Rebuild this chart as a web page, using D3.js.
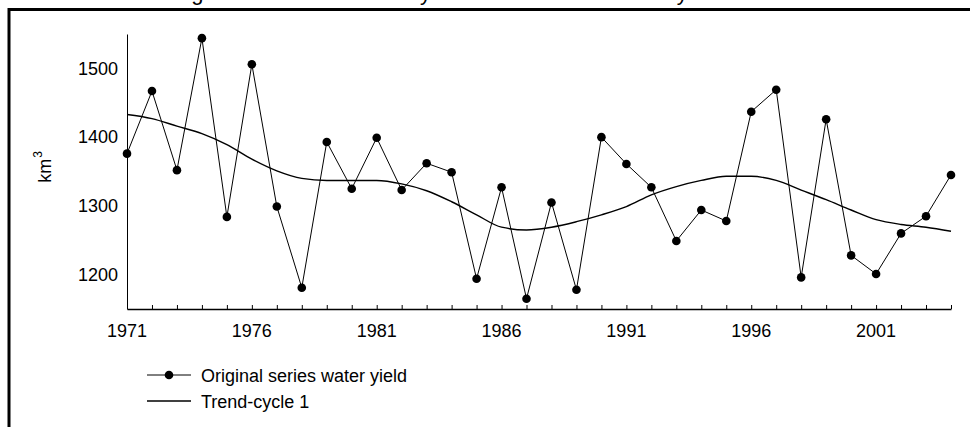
<!DOCTYPE html>
<html>
<head>
<meta charset="utf-8">
<script src="https://cdnjs.cloudflare.com/ajax/libs/d3/7.8.5/d3.min.js"></script>
<style>
    body { margin: 0; background: #fff; }
    svg { display: block; font-family: Arial, "Liberation Sans", sans-serif; }
    text { fill: #000; }
</style>
</head>
<body>
<svg width="970" height="427"></svg>
<script>
var years = d3.range(1971, 2005);
var waterYield = [1376, 1467, 1352, 1544, 1284, 1506, 1299, 1181, 1393, 1325,
    1399, 1323, 1362, 1349, 1194, 1327, 1165, 1305, 1178, 1400,
    1361, 1327, 1249, 1294, 1278, 1437, 1469, 1196, 1426, 1228,
    1201, 1260, 1285, 1345];
var trendCycle = [1433, 1427, 1416, 1405, 1389, 1368, 1351, 1340, 1337, 1337,
    1337, 1332, 1322, 1306, 1287, 1269, 1265, 1269, 1277, 1287,
    1299, 1316, 1328, 1337, 1343, 1343, 1337, 1323, 1309, 1294,
    1280, 1273, 1269, 1263];
var yTicks = [1200, 1300, 1400, 1500];
var xTicks = [1971, 1976, 1981, 1986, 1991, 1996, 2001];
var legendLabels = ["Original series water yield", "Trend-cycle 1"];

var svg = d3.select("svg");
var x = d3.scaleLinear().domain([1971, 2004]).range([127, 951]);
var y = d3.scaleLinear().domain([1150, 1550]).range([309, 34]);

//外框
svg.append("path")
    .attr("d", "M9,430V9.5H975")
    .attr("fill", "none")
    .attr("stroke", "#000")
    .attr("stroke-width", 3);

//标题 (只露出下半部分)
svg.append("text")
    .attr("x", 162)
    .attr("y", 0)
    .attr("font-size", 22)
    .text("Original series and trend-cycle 1 of the annual water yield");

//y轴
var yAxis = svg.append("g")
    .attr("transform", "translate(127,0)")
    .call(d3.axisLeft(y).tickValues(yTicks).tickSize(0).tickPadding(9).tickFormat(d3.format("d")));
yAxis.selectAll("text").attr("font-size", 18).attr("font-family", null);
yAxis.select(".domain").attr("stroke-width", 1);

//x轴
var xAxis = svg.append("g")
    .attr("transform", "translate(0,309)")
    .call(d3.axisBottom(x).tickValues(years).tickSize(-4).tickSizeOuter(0).tickFormat(""));
xAxis.select(".domain").attr("stroke-width", 1.5);
svg.append("g").selectAll("text")
    .data(xTicks)
    .enter()
    .append("text")
    .attr("x", d => x(d))
    .attr("y", 337)
    .attr("text-anchor", "middle")
    .attr("font-size", 18)
    .text(d => d);

//单位
svg.append("text")
    .attr("transform", "translate(51,167) rotate(-90)")
    .attr("text-anchor", "middle")
    .attr("font-size", 18)
    .text("km")
    .append("tspan")
    .attr("font-size", 12)
    .attr("dy", -9)
    .attr("dx", 1)
    .text("3");

//趋势线
svg.append("path")
    .datum(trendCycle)
    .attr("fill", "none")
    .attr("stroke", "#000")
    .attr("stroke-width", 1.4)
    .attr("d", d3.line().x((d, i) => x(years[i])).y(d => y(d)).curve(d3.curveMonotoneX));

//原始序列
svg.append("path")
    .datum(waterYield)
    .attr("fill", "none")
    .attr("stroke", "#000")
    .attr("stroke-width", 1)
    .attr("d", d3.line().x((d, i) => x(years[i])).y(d => y(d)));
svg.append("g").selectAll("circle")
    .data(waterYield)
    .enter()
    .append("circle")
    .attr("cx", (d, i) => x(years[i]))
    .attr("cy", d => y(d))
    .attr("r", 4.3)
    .attr("fill", "#000");

//图例
var legend = svg.append("g").selectAll("g")
    .data(legendLabels)
    .enter()
    .append("g")
    .attr("transform", (d, i) => `translate(147, ${375 + i * 26})`);
legend.append("line")
    .attr("x2", 44)
    .attr("stroke", "#000")
    .attr("stroke-width", (d, i) => i ? 1.4 : 1);
legend.filter((d, i) => i == 0).append("circle")
    .attr("cx", 22)
    .attr("r", 4.3)
    .attr("fill", "#000");
legend.append("text")
    .attr("x", 54)
    .attr("y", 6.5)
    .attr("font-size", 18)
    .text(d => d);
</script>
</body>
</html>
